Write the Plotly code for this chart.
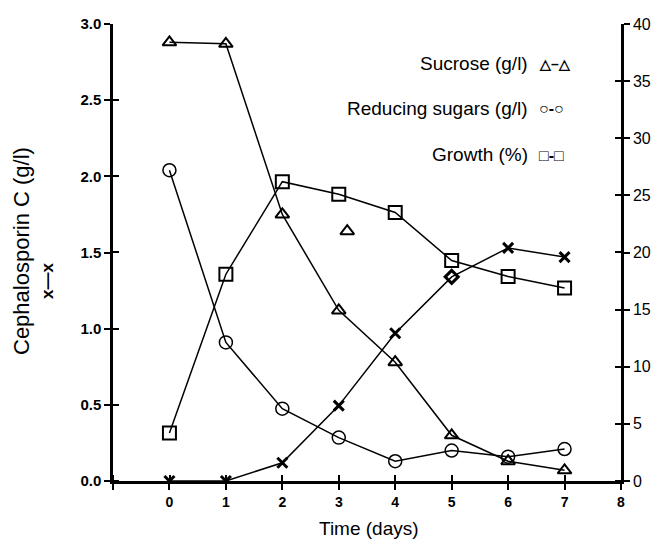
import plotly.graph_objects as go

days = [0, 1, 2, 3, 4, 5, 6, 7]
sucrose = [2.88, 2.87, 1.75, 1.12, 0.78, 0.30, 0.13, 0.07]
sucrose_extra_x = [3.15]
sucrose_extra_y = [1.64]
reducing = [2.04, 0.91, 0.475, 0.285, 0.13, 0.20, 0.16, 0.21]
growth = [4.2, 18.1, 26.2, 25.1, 23.5, 19.3, 17.9, 16.9]
cephalosporin = [0.0, 0.0, 0.12, 0.495, 0.97, 1.34, 1.53, 1.47]
ceph_symbols = ["x-thin", "x-thin", "x-thin", "x-thin", "x-thin", "diamond-open", "x-thin", "x-thin"]

x_ticks = [-1, 0, 1, 2, 3, 4, 5, 6, 7, 8]
x_ticklabels = ["", "0", "1", "2", "3", "4", "5", "6", "7", "8"]
left_ticks = [0.0, 0.5, 1.0, 1.5, 2.0, 2.5, 3.0]
right_ticks = [0, 5, 10, 15, 20, 25, 30, 35, 40]

FONT = "Liberation Sans, Arial, sans-serif"
BLACK = "black"

fig = go.Figure()
line = dict(color=BLACK, width=1.5)

fig.add_trace(go.Scatter(x=days, y=sucrose, mode="lines+markers", line=line,
                         marker=dict(symbol="triangle-up-open", size=12, color=BLACK,
                                     line=dict(width=2, color=BLACK)), showlegend=False))
fig.add_trace(go.Scatter(x=sucrose_extra_x, y=sucrose_extra_y, mode="markers",
                         marker=dict(symbol="triangle-up-open", size=12, color=BLACK,
                                     line=dict(width=2, color=BLACK)), showlegend=False))
fig.add_trace(go.Scatter(x=days, y=reducing, mode="lines+markers", line=line,
                         marker=dict(symbol="circle-open", size=13, color=BLACK,
                                     line=dict(width=1.5, color=BLACK)), showlegend=False))
fig.add_trace(go.Scatter(x=days, y=cephalosporin, mode="lines+markers", line=line,
                         marker=dict(symbol=ceph_symbols, size=10, color=BLACK,
                                     line=dict(width=3, color=BLACK)), showlegend=False))
fig.add_trace(go.Scatter(x=days, y=growth, mode="lines+markers", line=line, yaxis="y2",
                         marker=dict(symbol="square-open", size=13, color=BLACK,
                                     line=dict(width=2, color=BLACK)), showlegend=False))


def inside_minor(vals, eps):
    # minor ticks drawn inside, nudged a hair off the major ticks so they are kept
    return dict(ticks="inside", ticklen=6, tickwidth=2, tickcolor=BLACK,
                tickvals=[v + eps for v in vals], showgrid=False)


fig.update_layout(
    width=655, height=543,
    margin=dict(l=113, r=34, t=24, b=62, autoexpand=False),
    plot_bgcolor="white", paper_bgcolor="white",
    showlegend=False,
    xaxis=dict(range=[-1, 8], tickvals=x_ticks, ticktext=x_ticklabels, automargin=False,
               ticks="outside", ticklen=6, tickwidth=2, tickcolor=BLACK,
               minor=inside_minor(x_ticks, 0.002),
               showline=True, linecolor=BLACK, linewidth=2.5, showgrid=False,
               zeroline=False, tickfont=dict(family=FONT, size=14, color=BLACK, weight="bold")),
    yaxis=dict(range=[0, 3.0], tickvals=left_ticks, tickformat=".1f", automargin=False,
               ticks="outside", ticklen=6, tickwidth=2, tickcolor=BLACK,
               minor=inside_minor(left_ticks, 0.001),
               showline=True, linecolor=BLACK, linewidth=2.5, showgrid=False,
               zeroline=False, tickfont=dict(family=FONT, size=15, color=BLACK, weight="bold")),
    yaxis2=dict(range=[0, 40], tickvals=right_ticks, overlaying="y", side="right",
                automargin=False,
                ticks="outside", ticklen=6, tickwidth=2, tickcolor=BLACK,
                minor=inside_minor(right_ticks, 0.01),
                showline=True, linecolor=BLACK, linewidth=2.5, showgrid=False,
                zeroline=False, tickfont=dict(family=FONT, size=16, color=BLACK)),
)

plot_l, plot_r, plot_t, plot_b = 113, 621, 24, 481
W, H = plot_r - plot_l, plot_b - plot_t


def px_x(p):
    return (p - plot_l) / W


def px_y(p):
    return (plot_b - p) / H


annotations = [
    dict(text="Cephalosporin C (g/l)", x=px_x(21), y=px_y(251),
         xref="paper", yref="paper", xanchor="center", yanchor="middle",
         textangle=-90, showarrow=False, font=dict(family=FONT, size=22, color=BLACK)),
    dict(text="<b>x—x</b>", x=px_x(47), y=px_y(281),
         xref="paper", yref="paper", xanchor="center", yanchor="middle",
         textangle=-90, showarrow=False, font=dict(family=FONT, size=17, color=BLACK)),
    dict(text="Time (days)", x=px_x(369), y=px_y(528),
         xref="paper", yref="paper", xanchor="center", yanchor="middle",
         showarrow=False, font=dict(family=FONT, size=19, color=BLACK)),
]

legend_rows = [
    ("Sucrose (g/l)", "<b>△–△</b>", 63, 14),
    ("Reducing sugars (g/l)", "<b>○-○</b>", 108, 16),
    ("Growth (%)", "<b>□-□</b>", 154, 16),
]
for label, sym, py, ssize in legend_rows:
    annotations.append(dict(text=label, x=px_x(530), y=px_y(py),
                            xref="paper", yref="paper", xanchor="right", yanchor="middle",
                            showarrow=False, font=dict(family=FONT, size=19, color=BLACK)))
    annotations.append(dict(text=sym, x=px_x(537), y=px_y(py + 1),
                            xref="paper", yref="paper", xanchor="left", yanchor="middle",
                            showarrow=False, font=dict(family=FONT, size=ssize, color=BLACK)))
fig.update_layout(annotations=annotations)

fig.write_html("out.html")
